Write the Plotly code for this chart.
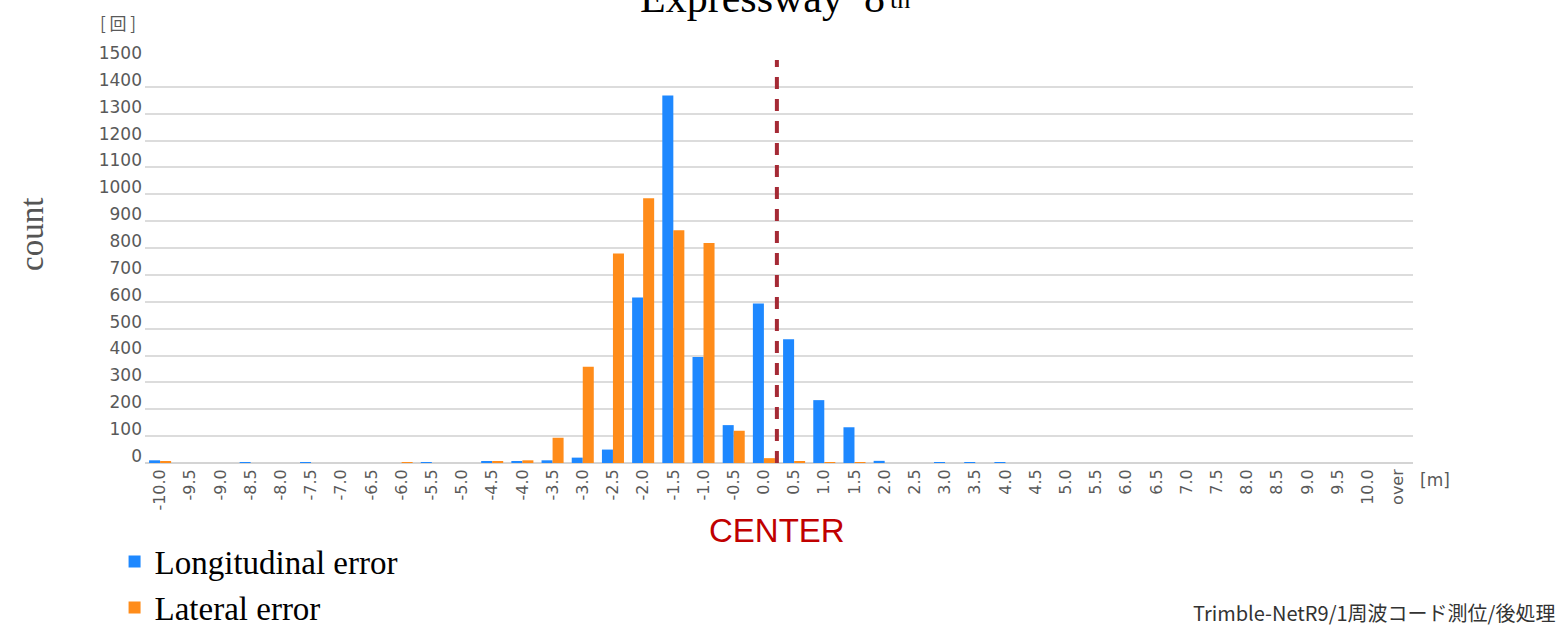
import plotly.graph_objects as go

categories = ["-10.0", "-9.5", "-9.0", "-8.5", "-8.0", "-7.5", "-7.0", "-6.5", "-6.0", "-5.5",
              "-5.0", "-4.5", "-4.0", "-3.5", "-3.0", "-2.5", "-2.0", "-1.5", "-1.0", "-0.5",
              "0.0", "0.5", "1.0", "1.5", "2.0", "2.5", "3.0", "3.5", "4.0", "4.5",
              "5.0", "5.5", "6.0", "6.5", "7.0", "7.5", "8.0", "8.5", "9.0", "9.5",
              "10.0", "over"]

longitudinal = [10, 0, 0, 2, 0, 2, 0, 0, 0, 2,
                0, 7, 4, 10, 20, 50, 616, 1368, 395, 141,
                594, 461, 234, 133, 8, 0, 1, 2, 2, 0,
                0, 0, 0, 0, 0, 0, 0, 0, 0, 0,
                0, 0]

lateral = [4, 0, 0, 0, 0, 0, 0, 0, 2, 0,
           0, 5, 10, 94, 358, 780, 985, 866, 819, 120,
           18, 5, 1, 1, 0, 0, 0, 0, 0, 0,
           0, 0, 0, 0, 0, 0, 0, 0, 0, 0,
           0, 0]

y_ticks = list(range(0, 1501, 100))
center_position = 20.43  # category-index position of the CENTER line

BLUE = "#1e88ff"
ORANGE = "#ff8c1a"
GRAY = "#595959"

fig = go.Figure()
fig.add_trace(go.Bar(x=categories, y=longitudinal, name="Longitudinal error",
                     marker=dict(color=BLUE, line=dict(width=0))))
fig.add_trace(go.Bar(x=categories, y=lateral, name="Lateral error",
                     marker=dict(color=ORANGE, line=dict(width=0))))

fig.update_layout(
    width=1558, height=625,
    margin=dict(l=145, r=145, t=60, b=162, autoexpand=False),
    paper_bgcolor="white", plot_bgcolor="white",
    barmode="group", bargap=0.27, bargroupgap=0,
    legend=dict(x=-0.024, y=-0.175, xanchor="left", yanchor="top",
                font=dict(family="Liberation Serif", size=33, color="black"),
                bgcolor="rgba(0,0,0,0)", tracegroupgap=0),
    showlegend=True,
)

fig.update_xaxes(type="category", tickangle=-90, ticks="", showgrid=False,
                 showline=False, tickfont=dict(family="DejaVu Sans", size=16, color=GRAY),
                 ticklabelstandoff=2)
fig.update_yaxes(range=[0, 1500], tickvals=y_ticks, ticks="", showgrid=True,
                 gridcolor="#dcdcdc", gridwidth=2, zeroline=True, zerolinecolor="#d4d4d4",
                 zerolinewidth=2, showline=False,
                 tickfont=dict(family="DejaVu Sans", size=17, color=GRAY),
                 ticklabelstandoff=2, ticklabelshift=-7)

fig.add_shape(type="line", xref="x", yref="paper", x0=center_position, x1=center_position,
              y0=0, y1=1, line=dict(color="#a52a35", width=4, dash="12px,10px"))

fig.add_annotation(text="Expressway&nbsp;&nbsp;8", xref="paper", yref="paper",
                   x=(762 - 145) / 1268, y=(463 + 2) / 403,
                   showarrow=False, xanchor="center", yanchor="middle",
                   font=dict(family="Liberation Serif", size=42, color="black"))
fig.add_annotation(text="th", xref="paper", yref="paper",
                   x=(888 - 145) / 1268, y=(463 + 1) / 403,
                   showarrow=False, xanchor="left", yanchor="middle",
                   font=dict(family="Liberation Serif", size=26, color="black"))
fig.add_annotation(text="CENTER", xref="x", yref="paper", x=center_position, y=(463 - 530) / 403,
                   showarrow=False, xanchor="center", yanchor="middle",
                   font=dict(family="Liberation Sans", size=33, color="#c00000"))
fig.add_annotation(text="[&nbsp;回&nbsp;]", xref="paper", yref="paper", x=(98 - 145) / 1268, y=(463 - 22) / 403,
                   showarrow=False, xanchor="left", yanchor="middle",
                   font=dict(family="Noto Sans CJK JP", size=17, color=GRAY))
fig.add_annotation(text="[m]", xref="paper", yref="paper", x=(1418 - 145) / 1268, y=(463 - 480) / 403,
                   showarrow=False, xanchor="left", yanchor="middle",
                   font=dict(family="DejaVu Sans", size=17, color=GRAY))
fig.add_annotation(text="count", xref="paper", yref="paper", x=(32 - 145) / 1268, y=(463 - 235) / 403,
                   showarrow=False, xanchor="center", yanchor="middle", textangle=-90,
                   font=dict(family="Liberation Serif", size=33, color="#555555"))
fig.add_annotation(text="Trimble-NetR9/1周波コード測位/後処理", xref="paper", yref="paper",
                   x=(1557 - 145) / 1268, y=(463 - 612) / 403,
                   showarrow=False, xanchor="right", yanchor="middle",
                   font=dict(family="Noto Sans CJK JP", size=20, color="#333333"))

fig.write_html("out.html", config={"displayModeBar": False},
               post_script="document.body.style.margin='0';document.body.style.overflow='hidden';")
